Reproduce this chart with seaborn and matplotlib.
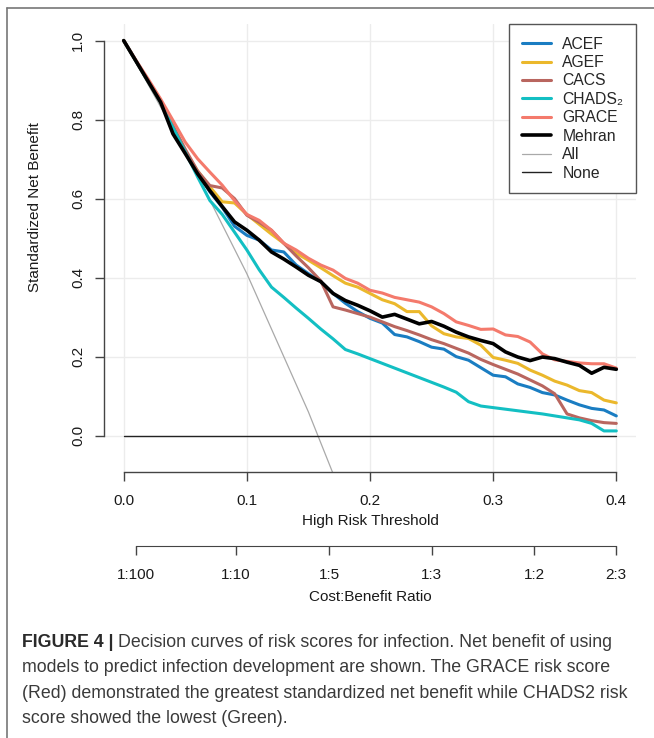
import numpy as np
import pandas as pd
import matplotlib
matplotlib.use('Agg')
import matplotlib.pyplot as plt
import seaborn as sns
from matplotlib.lines import Line2D

# Decision curve values (threshold step 0.01)
thresholds = [0.00, 0.01, 0.02, 0.03, 0.04, 0.05, 0.06, 0.07, 0.08, 0.09,
              0.10, 0.11, 0.12, 0.13, 0.14, 0.15, 0.16, 0.17, 0.18, 0.19,
              0.20, 0.21, 0.22, 0.23, 0.24, 0.25, 0.26, 0.27, 0.28, 0.29,
              0.30, 0.31, 0.32, 0.33, 0.34, 0.35, 0.36, 0.37, 0.38, 0.39, 0.40]

acef = [1.000, 0.948, 0.896, 0.844, 0.780, 0.718, 0.665, 0.617, 0.578, 0.530,
        0.507, 0.495, 0.470, 0.465, 0.432, 0.410, 0.390, 0.360, 0.335, 0.314,
        0.297, 0.285, 0.256, 0.250, 0.238, 0.224, 0.219, 0.200, 0.191, 0.172,
        0.153, 0.149, 0.131, 0.122, 0.109, 0.103, 0.090, 0.078, 0.069, 0.065, 0.050]

agef = [1.000, 0.948, 0.896, 0.844, 0.780, 0.718, 0.670, 0.630, 0.592, 0.589,
        0.560, 0.535, 0.510, 0.487, 0.462, 0.444, 0.425, 0.405, 0.386, 0.376,
        0.360, 0.344, 0.334, 0.314, 0.314, 0.278, 0.258, 0.250, 0.246, 0.229,
        0.198, 0.191, 0.183, 0.166, 0.153, 0.138, 0.128, 0.114, 0.109, 0.090, 0.083]

cacs = [1.000, 0.948, 0.896, 0.846, 0.785, 0.725, 0.670, 0.633, 0.627, 0.600,
        0.558, 0.540, 0.520, 0.487, 0.455, 0.425, 0.392, 0.326, 0.318, 0.309,
        0.300, 0.288, 0.276, 0.266, 0.255, 0.243, 0.233, 0.221, 0.209, 0.193,
        0.180, 0.168, 0.156, 0.141, 0.126, 0.106, 0.055, 0.045, 0.038, 0.033, 0.031]

chads2 = [1.000, 0.948, 0.896, 0.844, 0.780, 0.718, 0.655, 0.595, 0.560, 0.515,
          0.470, 0.420, 0.376, 0.350, 0.323, 0.297, 0.270, 0.245, 0.218, 0.207,
          0.195, 0.183, 0.171, 0.159, 0.147, 0.135, 0.123, 0.110, 0.086, 0.075,
          0.071, 0.067, 0.063, 0.059, 0.055, 0.050, 0.045, 0.040, 0.031, 0.012, 0.012]

grace = [1.000, 0.950, 0.902, 0.852, 0.798, 0.743, 0.701, 0.667, 0.634, 0.595,
         0.560, 0.545, 0.520, 0.487, 0.470, 0.449, 0.432, 0.419, 0.398, 0.386,
         0.368, 0.361, 0.350, 0.344, 0.338, 0.326, 0.309, 0.288, 0.279, 0.269,
         0.270, 0.255, 0.251, 0.237, 0.207, 0.192, 0.188, 0.184, 0.182, 0.182, 0.171]

mehran = [1.000, 0.948, 0.896, 0.844, 0.764, 0.714, 0.663, 0.620, 0.580, 0.541,
          0.520, 0.495, 0.465, 0.447, 0.427, 0.406, 0.390, 0.360, 0.342, 0.330,
          0.316, 0.300, 0.307, 0.295, 0.283, 0.289, 0.277, 0.262, 0.250, 0.241,
          0.233, 0.212, 0.199, 0.190, 0.199, 0.195, 0.186, 0.178, 0.158, 0.173, 0.168]

# treat-all / treat-none reference lines
all_thr = [0.00, 0.05, 0.10, 0.15, 0.20]
all_nb = [1.00, 0.72, 0.41, 0.06, -0.33]
none_thr = [0.00, 0.40]
none_nb = [0.0, 0.0]

models = ['ACEF', 'AGEF', 'CACS', 'CHADS\u2082', 'GRACE', 'Mehran']
colors = ['#1a7dc2', '#ebb82c', '#b9665f', '#13bfc3', '#f47a6c', '#000000']
widths = [2.2, 2.2, 2.2, 2.2, 2.2, 2.6]

# second axis: cost:benefit ratios
cost = [1, 1, 1, 1, 1, 2]
benefit = [100, 10, 5, 3, 2, 3]
ratio_labels = ['1:100', '1:10', '1:5', '1:3', '1:2', '2:3']

sns.set_style('white')
plt.rcParams['font.family'] = ['Liberation Sans', 'DejaVu Sans']

W, H = 654, 738
fig = plt.figure(figsize=(W / 100, H / 100), dpi=100)
ax = fig.add_axes([104 / W, 1 - 472 / H, 532 / W, 448 / H])

series = [acef, agef, cacs, chads2, grace, mehran]
df = pd.concat([pd.DataFrame({'threshold': thresholds, 'net_benefit': s, 'model': m})
                for m, s in zip(models, series)], ignore_index=True)

ax.grid(True, color='#ececec', lw=1.0)
ax.set_axisbelow(True)

sns.lineplot(x=all_thr, y=all_nb, color='#a9a9a9', lw=0.9, ax=ax)
sns.lineplot(x=none_thr, y=none_nb, color='#222222', lw=1.0, ax=ax)
sns.lineplot(data=df, x='threshold', y='net_benefit', hue='model', hue_order=models,
             palette=dict(zip(models, colors)), size='model', size_order=models,
             sizes=dict(zip(models, widths)), estimator=None, sort=False,
             legend=False, ax=ax)

ax.set_xlim(-0.016, 0.416)
ax.set_ylim(-0.092, 1.042)
ax.set_xticks([0.0, 0.1, 0.2, 0.3, 0.4])
ax.set_xticklabels(['0.0', '0.1', '0.2', '0.3', '0.4'])
ax.set_yticks([0.0, 0.2, 0.4, 0.6, 0.8, 1.0])
ax.set_yticklabels(['0.0', '0.2', '0.4', '0.6', '0.8', '1.0'], rotation=90, va='center')
for side in ['top', 'right']:
    ax.spines[side].set_visible(False)
ax.spines['left'].set_bounds(0, 1)
ax.spines['bottom'].set_bounds(0, 0.4)
for side in ['left', 'bottom']:
    ax.spines[side].set_color('#444444')
    ax.spines[side].set_linewidth(1.0)
ax.tick_params(axis='both', direction='out', length=6.5, width=1.0, color='#444444',
               labelsize=11, labelcolor='#1a1a1a', bottom=True, left=True)
ax.tick_params(axis='x', pad=9)
ax.tick_params(axis='y', pad=7)
ax.set_xlabel('High Risk Threshold', fontsize=11, color='#1a1a1a', labelpad=5)
ax.set_ylabel('Standardized Net Benefit', fontsize=11, color='#1a1a1a')
ax.yaxis.set_label_coords(-0.117, 0.5915)

handles = [Line2D([], [], color=c, lw=w) for c, w in zip(colors, widths)]
handles += [Line2D([], [], color='#a9a9a9', lw=0.9), Line2D([], [], color='#222222', lw=1.0)]
leg = ax.legend(handles, models + ['All', 'None'], loc='upper right',
                bbox_to_anchor=(1.0, 1.0), borderaxespad=0, fontsize=11.3,
                frameon=True, fancybox=False, framealpha=1, edgecolor='#555555',
                handlelength=1.9, handletextpad=0.7, labelspacing=0.22, borderpad=0.8)
leg.get_frame().set_linewidth(1.0)

# cost:benefit axis below the threshold axis
ax2 = fig.add_axes([104 / W, 1 - 546 / H, 532 / W, 0.0001])
ratio_thr = [c / (c + b) for c, b in zip(cost, benefit)]
ax2.set_xlim(ax.get_xlim())
ax2.set_xticks(ratio_thr)
ax2.set_xticklabels(ratio_labels)
ax2.set_yticks([])
for side in ['top', 'right', 'left']:
    ax2.spines[side].set_visible(False)
ax2.spines['bottom'].set_bounds(ratio_thr[0], ratio_thr[-1])
ax2.spines['bottom'].set_color('#444444')
ax2.patch.set_alpha(0)
ax2.tick_params(axis='x', direction='out', length=6.5, width=1.0, color='#444444',
                labelsize=11, labelcolor='#1a1a1a', pad=9, bottom=True)
ax2.set_xlabel('Cost:Benefit Ratio', fontsize=11, color='#1a1a1a', labelpad=6)

# page frame (top and left rules)
fig.add_artist(Line2D([7 / W, 1.0], [1 - 8 / H, 1 - 8 / H], color='#777777', lw=1.2))
fig.add_artist(Line2D([7 / W, 7 / W], [0.0, 1 - 8 / H], color='#777777', lw=1.2))

# caption
cap_lines = ['Decision curves of risk scores for infection. Net benefit of using',
             'models to predict infection development are shown. The GRACE risk score',
             '(Red) demonstrated the greatest standardized net benefit while CHADS2 risk',
             'score showed the lowest (Green).']
cap_size = 12.8
cap_color = '#3a3a3a'
x0 = 22 / W
y_first = 1 - 647 / H
step = 25.3 / H
bold = fig.text(x0, y_first, 'FIGURE 4 | ', fontsize=cap_size, fontweight='bold',
                color='#2a2a2a', va='baseline')
renderer = fig.canvas.get_renderer()
bx1 = bold.get_window_extent(renderer).x1 / W
fig.text(bx1, y_first, cap_lines[0], fontsize=cap_size, color=cap_color, va='baseline')
for i, line in enumerate(cap_lines[1:], start=1):
    fig.text(x0, y_first - i * step, line, fontsize=cap_size, color=cap_color,
             va='baseline')

fig.savefig('out.png', dpi=100)
